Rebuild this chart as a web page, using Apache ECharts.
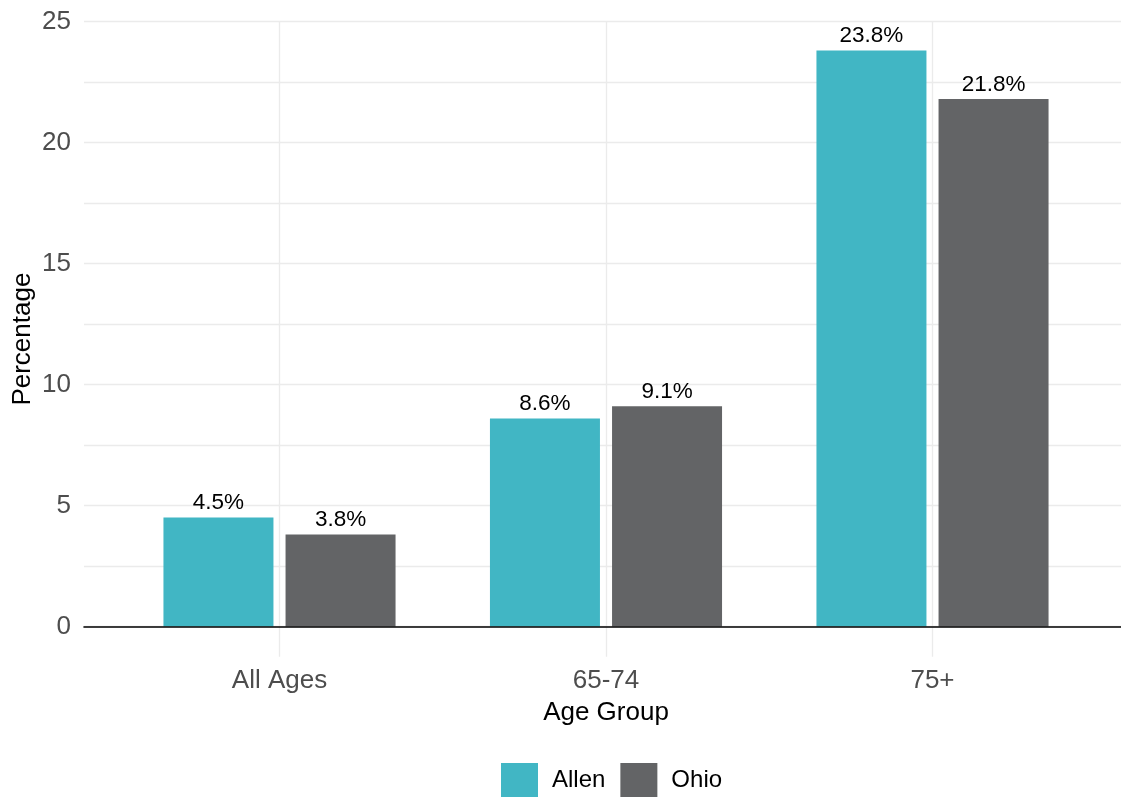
<!DOCTYPE html>
<html>
<head>
<meta charset="utf-8">
<script src="https://cdn.jsdelivr.net/npm/echarts@6/dist/echarts.min.js"></script>
<style>
html,body{margin:0;padding:0;background:#fff;}
#chart{width:1121px;height:797px;}
</style>
</head>
<body>
<div id="chart"></div>
<script>
const ageGroups = ['All Ages', '65-74', '75+'];
const allenValues = [4.5, 8.6, 23.8];
const ohioValues = [3.8, 9.1, 21.8];
const seriesNames = ['Allen', 'Ohio'];
const yTicks = [0, 5, 10, 15, 20, 25];

const FONT = 'Liberation Sans, Arial, sans-serif';
const chart = echarts.init(document.getElementById('chart'), null, {renderer: 'canvas'});

const labelCfg = {
  show: true, position: 'top', distance: 3,
  formatter: p => p.value.toFixed(1) + '%',
  fontSize: 22.5, color: '#000', fontFamily: FONT
};

chart.setOption({
  backgroundColor: '#ffffff',
  animation: false,
  textStyle: {fontFamily: FONT},
  grid: [
    {left: 84, right: 0, top: 21.5, bottom: 170.5, containLabel: false},
    {left: 116.25, right: 25.25, top: 21.5, bottom: 140.25, containLabel: false}
  ],
  xAxis: [
    {gridIndex: 0, type: 'value', min: 0, max: 1, z: 5,
     axisLine: {show: true, onZero: false, lineStyle: {color: '#000', width: 1.6}},
     axisTick: {show: false}, axisLabel: {show: false}, splitLine: {show: false}},
    {gridIndex: 1, type: 'category', data: ageGroups,
     axisLine: {show: false}, axisTick: {show: false},
     axisLabel: {fontSize: 26, color: '#4d4d4d', margin: 11, fontFamily: FONT},
     name: 'Age Group', nameLocation: 'middle', nameGap: 43,
     nameTextStyle: {fontSize: 26, color: '#000', fontFamily: FONT},
     splitLine: {show: false}}
  ],
  yAxis: [
    {gridIndex: 0, type: 'value', min: 0, max: 25, interval: 2.5,
     axisLine: {show: false}, axisTick: {show: false},
     axisLabel: {fontSize: 26, color: '#4d4d4d', margin: 13, fontFamily: FONT,
       formatter: v => yTicks.includes(v) ? String(v) : ''},
     splitLine: {show: true, lineStyle: {color: '#ebebeb', width: 1.3}}},
    {gridIndex: 1, type: 'value', min: -1.25, max: 25,
     axisLine: {show: false}, axisTick: {show: false}, axisLabel: {show: false},
     splitLine: {show: false},
     name: 'Percentage', nameLocation: 'middle', nameGap: 80,
     nameTextStyle: {fontSize: 26, color: '#000', fontFamily: FONT}}
  ],
  legend: {
    data: seriesNames, left: 501, top: 763, orient: 'horizontal', padding: 0,
    icon: 'rect', itemWidth: 37, itemHeight: 34, itemGap: 15,
    textStyle: {fontSize: 24, color: '#000', fontFamily: FONT, padding: [0, 0, 0, 9]}
  },
  series: [
    {name: 'grid-x', type: 'line', xAxisIndex: 1, yAxisIndex: 1,
     data: [null, null, null], showSymbol: false, silent: true, z: 1,
     lineStyle: {opacity: 0},
     markLine: {silent: true, symbol: 'none', animation: false,
       label: {show: false},
       lineStyle: {color: '#ebebeb', width: 1.3, type: 'solid'},
       emphasis: {disabled: true},
       data: ageGroups.map(g => ({xAxis: g}))}},
    {name: seriesNames[0], type: 'bar', xAxisIndex: 1, yAxisIndex: 1,
     data: allenValues, barWidth: 110, barGap: '11%',
     itemStyle: {color: '#41b6c4'}, label: labelCfg},
    {name: seriesNames[1], type: 'bar', xAxisIndex: 1, yAxisIndex: 1,
     data: ohioValues, barWidth: 110, barGap: '11%',
     itemStyle: {color: '#636466'}, label: labelCfg}
  ]
});
</script>
</body>
</html>
